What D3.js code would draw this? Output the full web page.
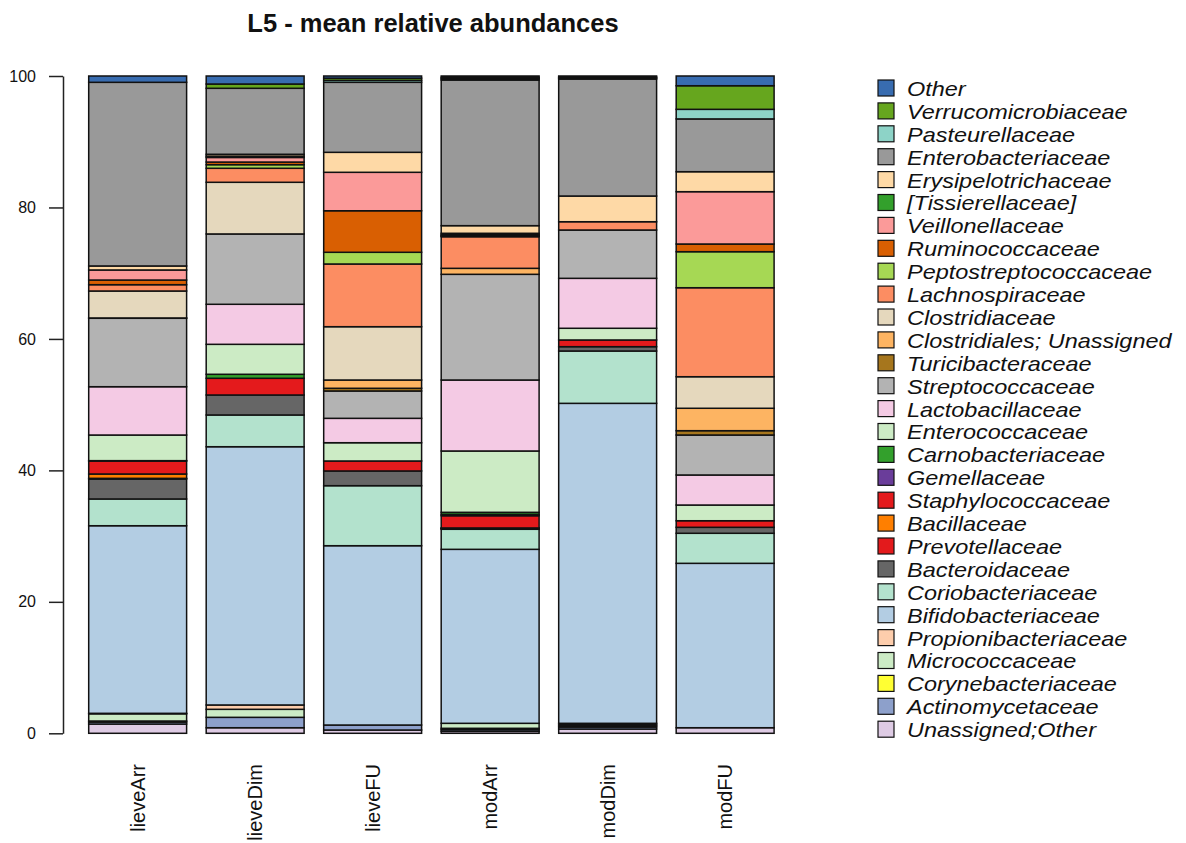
<!DOCTYPE html>
<html>
<head>
<meta charset="utf-8">
<script src="https://cdn.jsdelivr.net/npm/d3@7"></script>
<style>
  html, body { margin: 0; padding: 0; background: #ffffff; }
  svg { display: block; }
  text { font-family: "Liberation Sans", Arial, Helvetica, sans-serif; }
</style>
</head>
<body>
<svg id="chart" width="1186" height="843"></svg>
<script>
// Samples (x categories)
const samples = ["lieveArr", "lieveDim", "lieveFU", "modArr", "modDim", "modFU"];

// Families in stacking order, bottom to top
const families = [
  "Unassigned;Other", "Actinomycetaceae", "Corynebacteriaceae", "Micrococcaceae",
  "Propionibacteriaceae", "Bifidobacteriaceae", "Coriobacteriaceae", "Bacteroidaceae",
  "Prevotellaceae", "Bacillaceae", "Staphylococcaceae", "Gemellaceae",
  "Carnobacteriaceae", "Enterococcaceae", "Lactobacillaceae", "Streptococcaceae",
  "Turicibacteraceae", "Clostridiales; Unassigned", "Clostridiaceae", "Lachnospiraceae",
  "Peptostreptococcaceae", "Ruminococcaceae", "Veillonellaceae", "[Tissierellaceae]",
  "Erysipelotrichaceae", "Enterobacteriaceae", "Pasteurellaceae", "Verrucomicrobiaceae",
  "Other"
];

// Fill colour per family (same order as families)
const familyColors = [
  "#decbe4", "#8da0cb", "#ffff33", "#ccebc5",
  "#fdcdac", "#b3cde3", "#b3e2cd", "#666666",
  "#e31a1c", "#ff7f00", "#e41a1c", "#6a3d9a",
  "#33a02c", "#ccebc5", "#f4cae4", "#b3b3b3",
  "#a6761d", "#fdb462", "#e5d8bd", "#fc8d62",
  "#a6d854", "#d95f02", "#fb9a99", "#33a02c",
  "#fed9a6", "#999999", "#8dd3c7", "#66a61e",
  "#386cb0"
];

// Mean relative abundance (%) per family, same order as families
const lieveArr = [1.41, 0.3, 0.16, 1.1, 0.07, 28.54, 4.07, 3.04, 0.1, 0.66, 1.98, 0, 0.05, 3.9, 7.35, 10.41, 0, 0.05, 4.1, 0.96, 0, 0.71, 1.53, 0, 0.61, 27.94, 0, 0, 0.96];
const lieveDim = [0.85, 1.58, 0, 1.22, 0.66, 39.29, 4.83, 3.04, 0, 0, 2.54, 0, 0.61, 4.56, 6.09, 10.7, 0, 0, 7.86, 2.13, 0.55, 0.4, 0.7, 0.2, 0.28, 10.04, 0, 0.65, 1.22];
const lieveFU  = [0.5, 0.76, 0, 0, 0, 27.28, 9.13, 2.24, 0, 0, 1.52, 0, 0, 2.78, 3.71, 4.16, 0.41, 1.26, 8.11, 9.54, 1.78, 6.32, 5.85, 0, 3.04, 10.65, 0.3, 0.33, 0.33];
const modArr   = [0.3, 0.26, 0.2, 0.76, 0, 26.47, 3.05, 0.1, 0.05, 0.05, 1.86, 0.2, 0.32, 9.33, 10.8, 16.08, 0, 0.91, 0, 4.81, 0.1, 0.1, 0.12, 0.2, 1.16, 22.16, 0.2, 0.2, 0.21];
const modDim   = [0.65, 0.3, 0.2, 0.2, 0.17, 48.68, 7.96, 0.66, 0, 0, 1.02, 0, 0, 1.78, 7.6, 7.35, 0, 0, 0, 1.26, 0, 0, 0, 0, 3.91, 17.8, 0.15, 0.15, 0.16];
const modFU    = [0.85, 0, 0, 0, 0, 25.01, 4.57, 0.91, 0, 0, 1.0, 0, 0, 2.39, 4.57, 6.08, 0.66, 3.41, 4.8, 13.54, 5.48, 1.17, 7.96, 0, 3.04, 8.03, 1.46, 3.59, 1.48];

const yTicks = [0, 20, 40, 60, 80, 100];
const title = "L5 - mean relative abundances";

// Build the table d3.stack expects: one row per sample
const sampleValues = [lieveArr, lieveDim, lieveFU, modArr, modDim, modFU];
const table = samples.map((s, i) => {
  const row = { sample: s };
  families.forEach((f, j) => { row[f] = sampleValues[i][j]; });
  return row;
});

const svg = d3.select("#chart");

const x = d3.scaleBand()
  .domain(samples)
  .range([88.7, 774.1])
  .paddingInner(1 / 6)
  .paddingOuter(0);

const y = d3.scaleLinear().domain([0, 100]).range([733.3, 76]);

const color = d3.scaleOrdinal().domain(families).range(familyColors);

const series = d3.stack().keys(families)(table);

// Stacked bars
svg.append("g")
  .selectAll("g")
  .data(series)
  .join("g")
    .attr("fill", d => color(d.key))
  .selectAll("rect")
  .data(d => d)
  .join("rect")
    .attr("x", d => x(d.data.sample))
    .attr("width", x.bandwidth())
    .attr("y", d => y(d[1]))
    .attr("height", d => y(d[0]) - y(d[1]))
    .attr("stroke", "#111")
    .attr("stroke-width", 1.5);

// Y axis
const yAxis = svg.append("g")
  .attr("transform", "translate(63,0)")
  .call(d3.axisLeft(y).tickValues(yTicks).tickSize(14).tickSizeOuter(0).tickPadding(13));
yAxis.select(".domain").attr("stroke", "#222").attr("stroke-width", 1.5);
yAxis.selectAll(".tick line").attr("stroke", "#222").attr("stroke-width", 1.5);
yAxis.selectAll(".tick text")
  .attr("font-size", 16)
  .attr("fill", "#111")
  .style("font-family", "'Liberation Sans', Arial, sans-serif");

// Sample labels, rotated
svg.append("g")
  .selectAll("text")
  .data(samples)
  .join("text")
    .attr("transform", d => `translate(${x(d) + x.bandwidth() / 2},764) rotate(-90)`)
    .attr("text-anchor", "end")
    .attr("dominant-baseline", "central")
    .attr("font-size", 20)
    .attr("fill", "#111")
    .text(d => d);

// Title
svg.append("text")
  .attr("x", 433)
  .attr("y", 32)
  .attr("text-anchor", "middle")
  .attr("font-size", 25.5)
  .attr("font-weight", "bold")
  .attr("fill", "#111")
  .text(title);

// Legend, top entry is the top of the stack
const legendItems = families.slice().reverse();
const legend = svg.append("g")
  .selectAll("g")
  .data(legendItems)
  .join("g")
    .attr("transform", (d, i) => `translate(878,${88 + i * 22.9})`);
legend.append("rect")
  .attr("x", 0)
  .attr("y", -8)
  .attr("width", 16)
  .attr("height", 16)
  .attr("fill", d => color(d))
  .attr("stroke", "#111")
  .attr("stroke-width", 1.2);
legend.append("text")
  .attr("transform", "translate(29,1) scale(1.15,1)")
  .attr("dominant-baseline", "central")
  .attr("font-size", 20.4)
  .attr("font-style", "italic")
  .attr("fill", "#111")
  .text(d => d);
</script>
</body>
</html>
